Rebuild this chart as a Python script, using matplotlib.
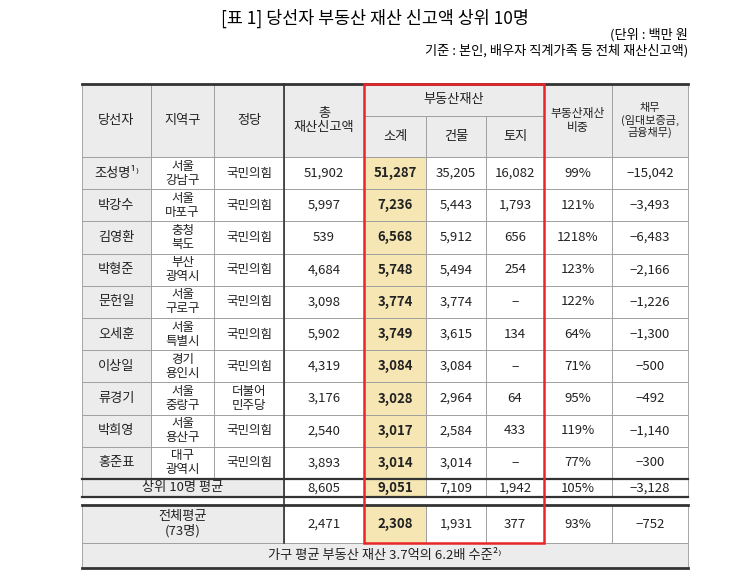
import matplotlib.pyplot as plt
from matplotlib.patches import Rectangle

plt.rcParams['font.family'] = ['Noto Sans CJK KR', 'Noto Sans CJK JP', 'Noto Sans CJK SC', 'DejaVu Sans']

names = ["조성명", "박강수", "김영환", "박형준", "문헌일", "오세훈", "이상일", "류경기", "박희영", "홍준표"]
regions = ["서울\n강남구", "서울\n마포구", "충청\n북도", "부산\n광역시", "서울\n구로구",
           "서울\n특별시", "경기\n용인시", "서울\n중랑구", "서울\n용산구", "대구\n광역시"]
parties = ["국민의힘"] * 7 + ["더불어\n민주당"] + ["국민의힘"] * 2
total = ["51,902", "5,997", "539", "4,684", "3,098", "5,902", "4,319", "3,176", "2,540", "3,893"]
subtotal = ["51,287", "7,236", "6,568", "5,748", "3,774", "3,749", "3,084", "3,028", "3,017", "3,014"]
building = ["35,205", "5,443", "5,912", "5,494", "3,774", "3,615", "3,084", "2,964", "2,584", "3,014"]
land = ["16,082", "1,793", "656", "254", "−", "134", "−", "64", "433", "−"]
ratio = ["99%", "121%", "1218%", "123%", "122%", "64%", "71%", "95%", "119%", "77%"]
debt = ["−15,042", "−3,493", "−6,483", "−2,166", "−1,226", "−1,300", "−500", "−492", "−1,140", "−300"]
top10_avg = ["8,605", "9,051", "7,109", "1,942", "105%", "−3,128"]
all_avg = ["2,471", "2,308", "1,931", "377", "93%", "−752"]

xs = [82, 151, 214, 284, 364, 426, 486, 544, 612, 688]
row_top, row_h = 157, 32.2
gray, yellow, red = "#ececec", "#f5e6b4", "#e8262a"

fig = plt.figure(figsize=(7.5, 5.82), dpi=100)
ax = fig.add_axes([0, 0, 1, 1])
ax.set_xlim(0, 750)
ax.set_ylim(582, 0)
ax.axis('off')

def cell(x0, x1, y0, y1, txt, fc="white", fs=9.5, bold=False):
    ax.add_patch(Rectangle((x0, y0), x1 - x0, y1 - y0, fc=fc, ec="#999999", lw=0.6))
    ax.text((x0 + x1) / 2, (y0 + y1) / 2, txt, ha='center', va='center', fontsize=fs,
            linespacing=1.1, color="#222222", fontweight='bold' if bold else 'normal')

ax.text(375, 18, "[표 1] 당선자 부동산 재산 신고액 상위 10명", ha='center', va='center', fontsize=12.5)
ax.text(688, 35, "(단위 : 백만 원", ha='right', va='center', fontsize=9.5)
ax.text(688, 51, "기준 : 본인, 배우자 직계가족 등 전체 재산신고액)", ha='right', va='center', fontsize=9.5)

# header
for i, h in enumerate(["당선자", "지역구", "정당", "총\n재산신고액"]):
    cell(xs[i], xs[i + 1], 84, 157, h, fc=gray)
cell(xs[4], xs[7], 84, 116, "부동산재산", fc=gray)
for i, h in enumerate(["소계", "건물", "토지"]):
    cell(xs[4 + i], xs[5 + i], 116, 157, h, fc=gray)
cell(xs[7], xs[8], 84, 157, "부동산재산\n비중", fc=gray, fs=8.5)
cell(xs[8], xs[9], 84, 157, "채무\n(임대보증금,\n금융채무)", fc=gray, fs=8)

for r in range(len(names)):
    y0 = row_top + r * row_h
    y1 = y0 + row_h
    vals = [names[r] + ("¹⁾" if r == 0 else ""), regions[r], parties[r], total[r],
            subtotal[r], building[r], land[r], ratio[r], debt[r]]
    for c, v in enumerate(vals):
        fc = gray if c == 0 else (yellow if c == 4 else "white")
        cell(xs[c], xs[c + 1], y0, y1, v, fc=fc, fs=9 if c in (1, 2) else 9.5, bold=(c == 4))

y_end = row_top + len(names) * row_h
cell(xs[0], xs[3], y_end, 497, "상위 10명 평균", fc=gray)
for c, v in enumerate(top10_avg):
    cell(xs[3 + c], xs[4 + c], y_end, 497, v, fc=yellow if c == 1 else "white", bold=(c == 1))

cell(xs[0], xs[3], 505, 543, "전체평균\n(73명)", fc=gray)
for c, v in enumerate(all_avg):
    cell(xs[3 + c], xs[4 + c], 505, 543, v, fc=yellow if c == 1 else "white", bold=(c == 1))

cell(xs[0], xs[9], 543, 568, "가구 평균 부동산 재산 3.7억의 6.2배 수준²⁾", fc=gray)

# thick rules
for y, lw in [(84, 2), (y_end, 1.6), (497, 1.6), (505, 2), (568, 2)]:
    ax.plot([xs[0], xs[9]], [y, y], color="#333333", lw=lw)
ax.plot([xs[3], xs[3]], [84, 543], color="#333333", lw=1.2)

# red highlight box
ax.add_patch(Rectangle((xs[4], 84), xs[7] - xs[4], 543 - 84, fill=False, ec=red, lw=1.8, zorder=5))

fig.savefig("out.png", dpi=100)
